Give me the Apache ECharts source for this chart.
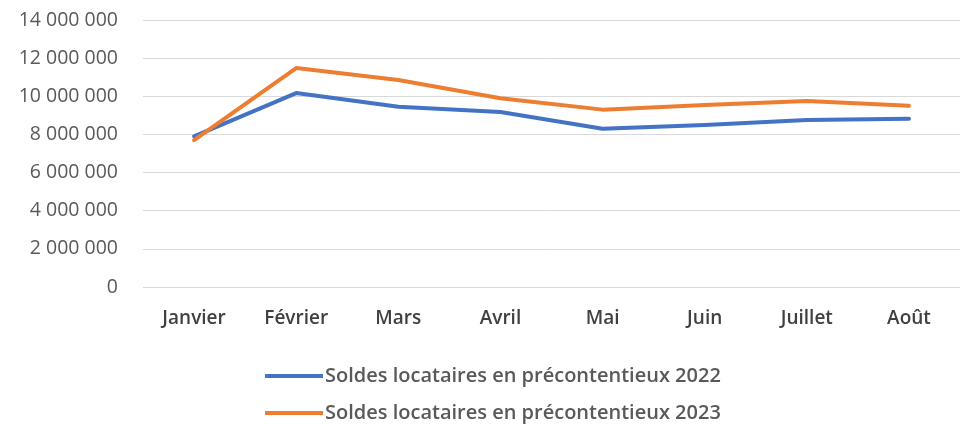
<!DOCTYPE html>
<html>
<head>
<meta charset="utf-8">
<script src="https://cdn.jsdelivr.net/npm/echarts@6/dist/echarts.min.js"></script>
<style>
  html, body { margin: 0; padding: 0; background: #fff; }
  #chart { width: 965px; height: 428px; }
</style>
</head>
<body>
<div id="chart"></div>
<script>
const mois = ["Janvier", "Février", "Mars", "Avril", "Mai", "Juin", "Juillet", "Août"];
const soldes2022 = [7900000, 10170000, 9450000, 9180000, 8300000, 8500000, 8760000, 8820000];
const soldes2023 = [7700000, 11480000, 10850000, 9900000, 9300000, 9540000, 9750000, 9500000];
const nom2022 = "Soldes locataires en précontentieux 2022";
const nom2023 = "Soldes locataires en précontentieux 2023";

const palette = { a: "#4472C4", b: "#ED7D31" };
const font = "'Open Sans', 'Noto Sans', sans-serif";

// 14 000 000 style
const formatNombre = (v) => String(v).replace(/\B(?=(\d{3})+(?!\d))/g, " ");

const chart = echarts.init(document.getElementById("chart"));

chart.setOption({
  animation: false,
  backgroundColor: "#fff",
  textStyle: { fontFamily: font },
  grid: { left: 143, right: 5, top: 20, bottom: 141 },
  legend: {
    orient: "vertical",
    left: 260,
    top: 361,
    itemGap: 17,
    itemWidth: 58,
    itemHeight: 4,
    icon: "rect",
    data: [nom2022, nom2023],
    textStyle: { color: "#595959", fontSize: 20, fontWeight: 600, fontFamily: font, padding: [0, 0, 0, -3] },
  },
  xAxis: {
    type: "category",
    data: mois,
    boundaryGap: true,
    axisLine: { show: false },
    axisTick: { show: false },
    axisLabel: { color: "#404040", fontSize: 19, fontWeight: 600, margin: 22, fontFamily: font },
  },
  yAxis: {
    type: "value",
    min: 0,
    max: 14000000,
    interval: 2000000,
    axisLabel: { color: "#595959", fontSize: 19.5, margin: 25, formatter: formatNombre, fontFamily: font },
    splitLine: { lineStyle: { color: "#d9d9d9", width: 1 } },
  },
  series: [
    {
      name: nom2022,
      type: "line",
      data: soldes2022,
      symbol: "none",
      itemStyle: { color: palette.a },
      lineStyle: { color: palette.a, width: 4, cap: "round", join: "round" },
    },
    {
      name: nom2023,
      type: "line",
      data: soldes2023,
      symbol: "none",
      itemStyle: { color: palette.b },
      lineStyle: { color: palette.b, width: 4, cap: "round", join: "round" },
    },
  ],
});
</script>
</body>
</html>
